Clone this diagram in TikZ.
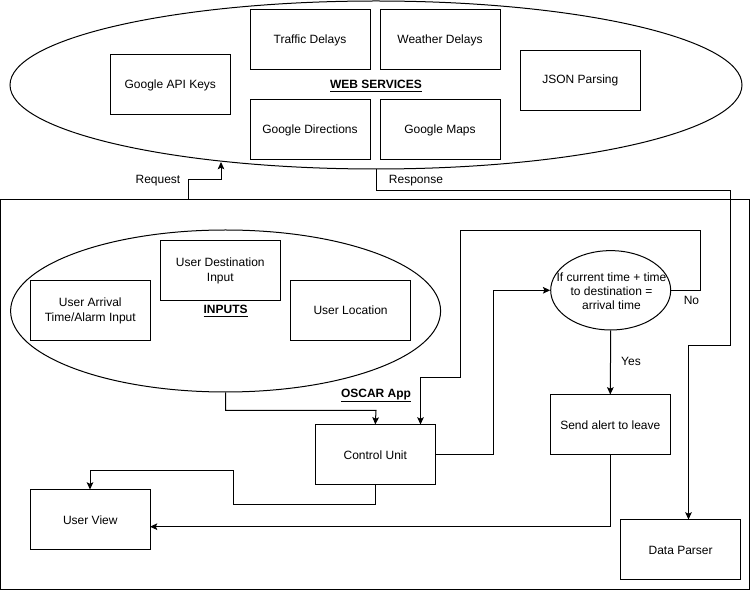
\documentclass[tikz,border=0pt]{standalone}
\usepackage{fontspec}
\setmainfont{Liberation Sans}
\usetikzlibrary{arrows.meta,shapes.geometric}
\begin{document}
\begin{tikzpicture}[x=0.75pt,y=-0.75pt,
  every node/.style={font=\fontsize{9}{11}\selectfont},
  box/.style={draw,line width=0.75pt,minimum width=90pt,minimum height=45pt,inner sep=0pt,align=center},
  oval/.style={draw,line width=0.75pt,ellipse,inner sep=0pt},
  lbl/.style={font=\fontsize{9}{11}\selectfont\bfseries},
  conn/.style={line width=0.75pt},
  arr/.style={conn,-{Stealth[length=5.5pt,width=5pt,inset=1.2pt]}}]
\useasboundingbox (0,0) rectangle (751,591);
% frame
\node[draw,line width=0.75pt,minimum width=562pt,minimum height=292.5pt,inner sep=0pt] (app) at (375.25,395) {};
% web services
\node[oval,minimum width=549pt,minimum height=126pt] (ws) at (376,85) {};
\node[lbl] (wsl) at (376,86) {\underline{WEB SERVICES}};
\node[box] (keys) at (170.3,85) {Google API Keys};
\node[box] (traf) at (310,40) {Traffic Delays};
\node[box] (weat) at (440,40) {Weather Delays};
\node[box] (dirs) at (310,130) {Google Directions};
\node[box] (maps) at (440,130) {Google Maps};
\node[box] (json) at (580.3,80.3) {JSON Parsing};
% inputs
\node[oval,minimum width=322.5pt,minimum height=121.5pt] (in) at (225.6,311) {};
\node[lbl] (inl) at (225.6,311) {\underline{INPUTS}};
\node[box] (dest) at (220.3,270.7) {User Destination\\Input};
\node[box] (arrv) at (90.3,310.7) {User Arrival\\Time/Alarm Input};
\node[box] (loc) at (350.6,310.7) {User Location};
\node[lbl] (oscar) at (376,395.7) {\underline{OSCAR App}};
% app boxes
\node[box] (cu) at (375.3,455) {Control Unit};
\node[box] (uv) at (90.3,520) {User View};
\node[box] (sa) at (610.3,425) {Send alert to leave};
\node[box] (dp) at (680.6,550) {Data Parser};
\node[oval,minimum width=90pt,minimum height=59.5pt] (dec) at (610.7,290.3) {};
\node[align=center,font=\fontsize{9}{10.5}\selectfont,inner sep=0pt] (dect) at (611.5,291.3)
  {If current time + time\\to destination =\\arrival time};
% coordinates
\coordinate (rq0) at (188,200);
\coordinate (rq1) at (221,180);
\coordinate (rqt) at (221,162);
\coordinate (rs1) at (730,191);
\coordinate (rs2) at (688.5,346);
\coordinate (i1) at (376,410.5);
\coordinate (c1) at (493,290.3);
\coordinate (n1) at (700.7,230.7);
\coordinate (n2) at (460,378);
\coordinate (n3) at (420.5,378);
\coordinate (v1) at (233,505);
\coordinate (v2) at (90,470.7);
\coordinate (s1) at (150,526.7);
% connectors
\draw[arr] (rq0) |- (rq1) -- (rqt);
\node[anchor=east] (req) at (185,181) {Request};
\draw[arr] (ws.south) |- (rs1) |- (rs2) -- (rs2 |- dp.north);
\node (resp) at (416,181) {Response};
\draw[arr] (in.south) |- (i1) -- (cu.north);
\draw[arr] (cu.east) -| (c1) -- (dec.west);
\draw[arr] (dec.east) -| (n1) -| (n2) -| (n3) -- (n3 |- cu.north);
\node (no) at (691.5,300.7) {No};
\draw[arr] (dec.south) -- (sa.north);
\node (yes) at (631,361) {Yes};
\draw[arr] (sa.south) |- (s1);
\draw[arr] (cu.south) |- (v1) |- (v2) -- (v2 |- uv.north);
\end{tikzpicture}
\end{document}
